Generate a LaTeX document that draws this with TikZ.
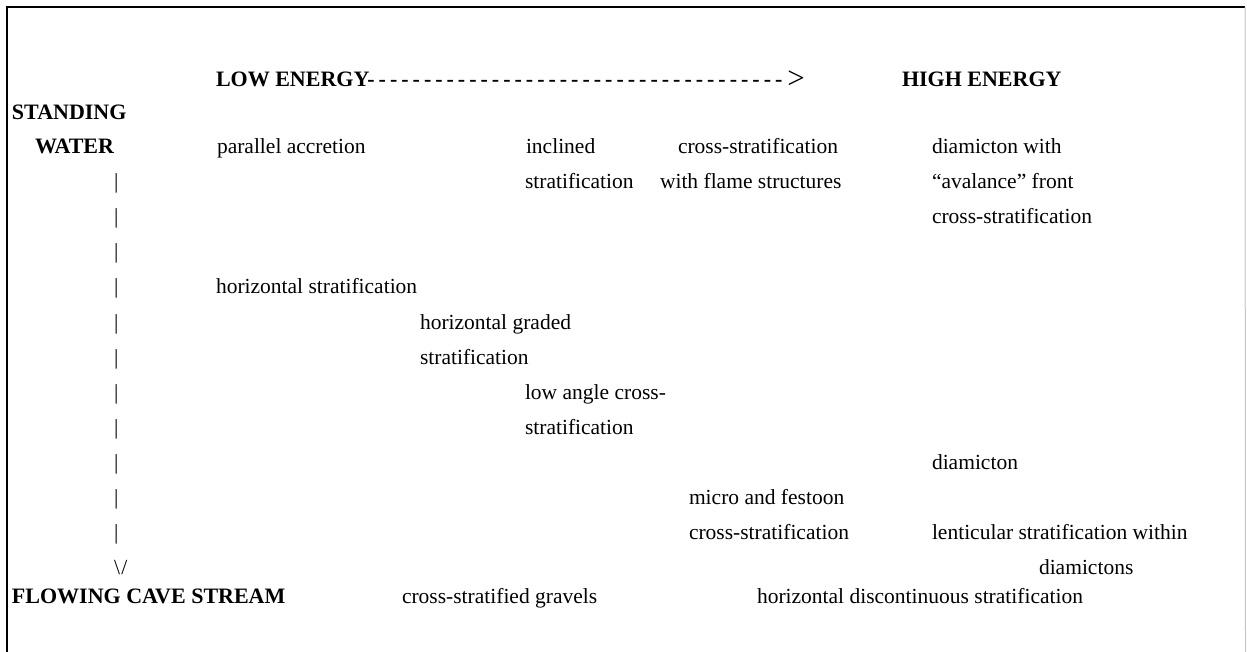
\documentclass[tikz,border=0pt]{standalone}
\usepackage{fontspec}
\setmainfont{Liberation Serif}
\newcommand\hd{-\kern4.0pt}
\begin{document}
\begin{tikzpicture}[x=1pt,y=-1pt,
  txt/.style={anchor=base west, inner sep=0pt, outer sep=0pt, font=\fontsize{21.5}{25}\selectfont},
  bld/.style={txt, font=\fontsize{22}{26}\selectfont\bfseries},
  frame/.style={line width=2pt, black},
  faint/.style={line width=1pt, gray!45}]
\useasboundingbox (0,0) rectangle (1247,652);
\fill[white] (0,0) rectangle (1247,652);
% frame
\coordinate (fbl) at (7,652);
\coordinate (ftl) at (7,7);
\coordinate (ftr) at (1245,7);
\coordinate (fbr) at (1245.5,652);
\draw[frame] (fbl) -- (ftl) -- (ftr);
\draw[faint] (ftr) -- (fbr);
% header
\node[bld] (low) at (216,87) {LOW ENERGY\hd\hd\hd\hd\hd\hd\hd\hd\hd\hd\hd\hd\hd\hd\hd\hd\hd\hd\hd\hd\hd\hd\hd\hd\hd\hd\hd\hd\hd\hd\hd\hd\hd\hd\hd\hd\hd};
\node[txt, anchor=base west, font=\fontsize{31}{33}\selectfont] (arr) at ([xshift=1pt]low.base east) {\raisebox{-1.5pt}{>}};
\node[bld] (high) at (902,87) {HIGH ENERGY};
\node[bld] (standing) at (12,120) {STANDING};
% row 0
\node[bld] (water) at (35,154) {WATER};
\node[txt] (par) at (217,154) {parallel accretion};
\node[txt] (incl) at (526,154) {inclined};
\node[txt] (cs1) at (678,154) {cross-stratification};
\node[txt] (diaw) at (932,154) {diamicton with};
% pipes
\foreach \i/\y in {1/189,2/224,3/259,4/294,5/329,6/364,7/399,8/434,9/469,10/504,11/539}
  \node[txt] (p\i) at (114,\y) {|};
\node[txt] (vee) at (114,574) {\textbackslash\kern1.5pt/};
% row 1
\node[txt] (strat1) at (525,189) {stratification};
\node[txt] (flame) at (660,189) {with flame structures};
\node[txt] (aval) at (932,189) {“avalance” front};
% row 2
\node[txt] (cs2) at (932,224) {cross-stratification};
% lower rows
\node[txt] (hs) at (216,294) {horizontal stratification};
\node[txt] (hg) at (420,329) {horizontal graded};
\node[txt] (hgs) at (420,364) {stratification};
\node[txt] (lac) at (525,399) {low angle cross-};
\node[txt] (lacs) at (525,434) {stratification};
\node[txt] (dia) at (932,469) {diamicton};
\node[txt] (mic) at (689,504) {micro and festoon};
\node[txt] (mics) at (689,539) {cross-stratification};
\node[txt] (lent) at (932,539) {lenticular stratification within};
\node[txt] (dias) at (1039,574) {diamictons};
% bottom row
\node[bld] (flow) at (12,603) {FLOWING CAVE STREAM};
\node[txt] (csg) at (402,603) {cross-stratified gravels};
\node[txt] (hds) at (757,603) {horizontal discontinuous stratification};
\end{tikzpicture}
\end{document}
